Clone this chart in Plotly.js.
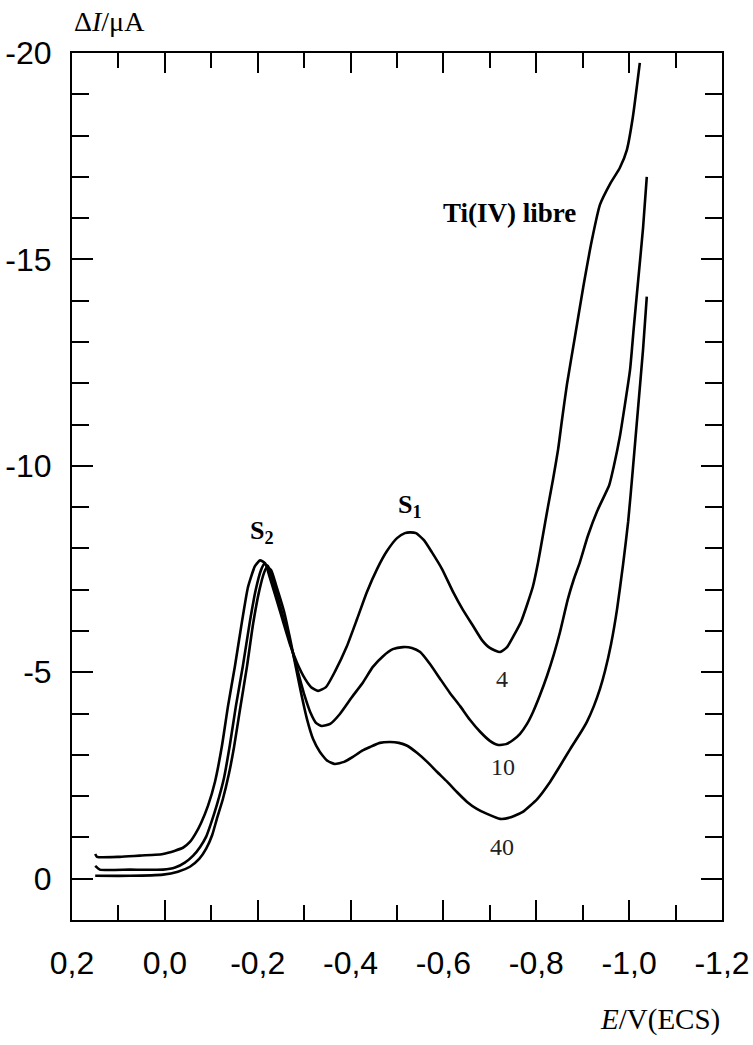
<!DOCTYPE html>
<html>
<head>
<meta charset="utf-8">
<script src="https://cdn.plot.ly/plotly-3.0.1.min.js"></script>
<style>html,body{margin:0;padding:0;background:#fff;}#chart{width:753px;height:1045px;}</style>
</head>
<body>
<div id="chart"></div>
<script>
// Curve: Ti(IV) libre (top)
const xFree = [0.150,0.146,0.097,0.054,0.021,0.004,-0.022,-0.039,-0.054,-0.067,
  -0.078,-0.093,-0.108,-0.123,-0.136,-0.151,-0.166,-0.179,-0.194,-0.205,
  -0.216,-0.226,-0.248,-0.270,-0.285,-0.302,-0.315,-0.330,-0.347,-0.366,
  -0.392,-0.414,-0.435,-0.457,-0.478,-0.500,-0.517,-0.528,-0.541,-0.558,
  -0.575,-0.597,-0.621,-0.642,-0.664,-0.683,-0.700,-0.722,-0.737,-0.752,
  -0.767,-0.780,-0.793,-0.804,-0.814,-0.825,-0.836,-0.847,-0.855,-0.866,
  -0.883,-0.901,-0.920,-0.937,-0.959,-0.980,-0.995,-1.008,-1.023];
const yFree = [-0.60,-0.53,-0.53,-0.56,-0.58,-0.60,-0.68,-0.75,-0.89,-1.11,
  -1.35,-1.77,-2.35,-3.22,-4.18,-5.15,-6.22,-7.06,-7.57,-7.71,
  -7.64,-7.30,-6.48,-5.66,-5.22,-4.84,-4.64,-4.55,-4.64,-5.01,
  -5.63,-6.29,-6.94,-7.50,-7.93,-8.25,-8.37,-8.39,-8.37,-8.20,
  -7.91,-7.50,-6.94,-6.51,-6.12,-5.78,-5.59,-5.49,-5.61,-5.90,
  -6.22,-6.63,-7.09,-7.67,-8.30,-9.00,-9.67,-10.40,-11.08,-11.97,
  -13.11,-14.32,-15.48,-16.32,-16.83,-17.22,-17.65,-18.45,-19.76];

// Curve: middle
const xMid = [0.150,0.140,0.075,0.004,-0.022,-0.043,-0.061,-0.076,-0.089,-0.099,
  -0.112,-0.127,-0.140,-0.153,-0.168,-0.183,-0.196,-0.207,-0.214,-0.222,
  -0.233,-0.252,-0.272,-0.285,-0.300,-0.313,-0.326,-0.338,-0.356,-0.377,
  -0.403,-0.427,-0.448,-0.470,-0.491,-0.513,-0.532,-0.550,-0.571,-0.593,
  -0.614,-0.636,-0.657,-0.679,-0.700,-0.718,-0.735,-0.750,-0.765,-0.780,
  -0.793,-0.808,-0.823,-0.838,-0.851,-0.868,-0.881,-0.894,-0.911,-0.931,
  -0.946,-0.957,-0.967,-0.980,-0.991,-1.002,-1.010,-1.019,-1.030,-1.038];
const yMid = [-0.31,-0.22,-0.22,-0.22,-0.27,-0.39,-0.56,-0.77,-1.02,-1.33,
  -1.79,-2.42,-3.24,-4.18,-5.15,-6.22,-7.01,-7.47,-7.62,-7.57,
  -7.21,-6.46,-5.63,-5.08,-4.47,-4.04,-3.77,-3.70,-3.75,-3.99,
  -4.40,-4.76,-5.13,-5.39,-5.56,-5.61,-5.59,-5.49,-5.20,-4.84,
  -4.50,-4.18,-3.85,-3.56,-3.34,-3.24,-3.26,-3.36,-3.51,-3.75,
  -4.04,-4.45,-4.91,-5.44,-5.97,-6.77,-7.26,-7.67,-8.30,-8.90,
  -9.26,-9.53,-9.99,-10.71,-11.49,-12.33,-13.35,-14.44,-15.77,-17.00];

// Curve: bottom
const xLow = [0.150,0.075,0.004,-0.028,-0.054,-0.074,-0.089,-0.102,-0.112,-0.125,
  -0.138,-0.149,-0.162,-0.177,-0.190,-0.203,-0.214,-0.220,-0.229,-0.239,
  -0.257,-0.270,-0.282,-0.293,-0.306,-0.319,-0.334,-0.351,-0.366,-0.386,
  -0.405,-0.425,-0.442,-0.463,-0.485,-0.504,-0.522,-0.543,-0.565,-0.586,
  -0.608,-0.629,-0.651,-0.672,-0.694,-0.722,-0.743,-0.771,-0.802,-0.830,
  -0.851,-0.873,-0.894,-0.909,-0.924,-0.937,-0.948,-0.961,-0.974,-0.987,
  -0.998,-1.008,-1.019,-1.030,-1.038];
const yLow = [-0.07,-0.07,-0.10,-0.17,-0.29,-0.48,-0.73,-1.06,-1.45,-1.93,
  -2.54,-3.19,-4.11,-5.15,-6.17,-6.96,-7.42,-7.55,-7.47,-7.13,
  -6.46,-5.80,-5.13,-4.52,-3.87,-3.39,-3.07,-2.85,-2.78,-2.83,
  -2.95,-3.10,-3.19,-3.29,-3.31,-3.29,-3.22,-3.05,-2.83,-2.59,
  -2.35,-2.10,-1.86,-1.69,-1.57,-1.45,-1.48,-1.62,-1.93,-2.35,
  -2.73,-3.14,-3.51,-3.80,-4.18,-4.59,-5.03,-5.68,-6.53,-7.62,
  -8.66,-9.92,-11.37,-12.82,-14.10];

const xTickVals = [0.2, 0.0, -0.2, -0.4, -0.6, -0.8, -1.0, -1.2];
const xTickText = ["0,2", "0,0", "-0,2", "-0,4", "-0,6", "-0,8", "-1,0", "-1,2"];
const yTickVals = [0, -5, -10, -15, -20];
const yTickText = ["0", "-5", "-10", "-15", "-20"];

const curveLabels = ["<b>Ti(IV) libre</b>", "4", "10", "40"];
const labelX = [-0.743, -0.726, -0.728, -0.726];
const labelY = [-16.13, -4.84, -2.71, -0.77];
const peakLabels = ["<b>S<sub>2</sub></b>", "<b>S<sub>1</sub></b>"];
const peakX = [-0.209, -0.528];
const peakY = [-8.39, -9.02];

const lineStyle = {color: '#000', width: 2.6, shape: 'spline', smoothing: 0.5};
const traces = [
  {x: xFree, y: yFree, mode: 'lines', line: lineStyle, hoverinfo: 'skip'},
  {x: xMid, y: yMid, mode: 'lines', line: lineStyle, hoverinfo: 'skip'},
  {x: xLow, y: yLow, mode: 'lines', line: lineStyle, hoverinfo: 'skip'}
];

const serif = '"Liberation Serif", "Times New Roman", serif';
const sans = '"Liberation Sans", Arial, sans-serif';

const annotations = [];
curveLabels.forEach((t, i) => annotations.push({
  x: labelX[i], y: labelY[i], xref: 'x', yref: 'y', text: t, showarrow: false,
  font: {family: serif, size: i === 0 ? 27 : 24, color: i === 0 ? '#000' : '#222'}, xanchor: 'center', yanchor: 'middle'
}));
peakLabels.forEach((t, i) => annotations.push({
  x: peakX[i], y: peakY[i], xref: 'x', yref: 'y', text: t, showarrow: false,
  font: {family: serif, size: 26, color: '#000'}, xanchor: 'center', yanchor: 'middle'
}));
annotations.push({
  x: 0.058, y: 1.036, xref: 'paper', yref: 'paper', text: 'Δ<i>I</i>/μA', showarrow: false,
  font: {family: serif, size: 28, color: '#000'}, xanchor: 'center', yanchor: 'middle'
});
annotations.push({
  x: 1.0, y: -0.115, xref: 'paper', yref: 'paper', text: '<i>E</i>/V(ECS)', showarrow: false,
  font: {family: serif, size: 29, color: '#000'}, xanchor: 'right', yanchor: 'middle'
});

const layout = {
  width: 753, height: 1045,
  margin: {l: 72, r: 31, t: 53, b: 125},
  paper_bgcolor: '#fff', plot_bgcolor: '#fff',
  showlegend: false,
  xaxis: {
    range: [0.2, -1.2], showgrid: false, zeroline: false,
    showline: true, linecolor: '#000', linewidth: 2, mirror: 'ticks',
    ticks: 'inside', ticklen: 20, tickwidth: 2, tickcolor: '#000',
    tickmode: 'array', tickvals: xTickVals, ticktext: xTickText,
    minor: {dtick: 0.1, tick0: 0, ticks: 'inside', ticklen: 15, tickwidth: 2, tickcolor: '#000', showgrid: false},
    tickfont: {family: sans, size: 32, color: '#000'},
    ticklabelstandoff: 14
  },
  yaxis: {
    range: [1, -20], showgrid: false, zeroline: false,
    showline: true, linecolor: '#000', linewidth: 2, mirror: 'ticks',
    ticks: 'inside', ticklen: 21, tickwidth: 2, tickcolor: '#000',
    tickmode: 'array', tickvals: yTickVals, ticktext: yTickText,
    minor: {dtick: 1, tick0: 0, ticks: 'inside', ticklen: 17, tickwidth: 2, tickcolor: '#000', showgrid: false},
    tickfont: {family: sans, size: 32, color: '#000'},
    ticklabelstandoff: 12
  },
  annotations: annotations
};

Plotly.newPlot('chart', traces, layout, {staticPlot: true, displayModeBar: false});
</script>
</body>
</html>
